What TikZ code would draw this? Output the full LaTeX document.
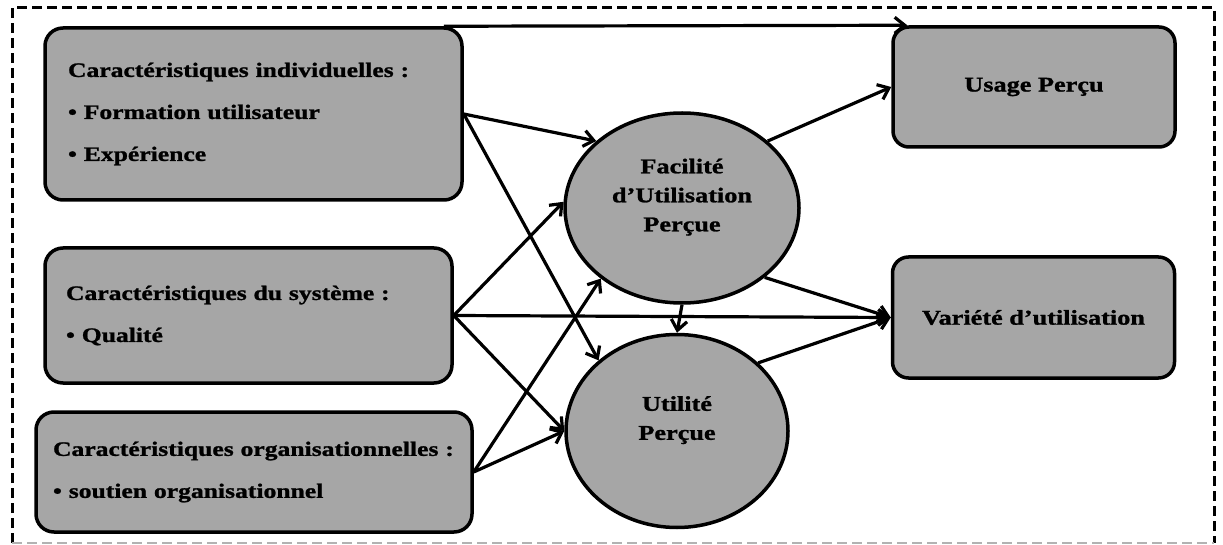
\documentclass[tikz,border=0pt]{standalone}
\usepackage{fontspec}
\setmainfont{Liberation Serif}[FakeStretch=1.25, BoldFeatures={FakeBold=1.2}]
\usepackage{tikz}
\usetikzlibrary{arrows.meta, shapes.geometric}
\definecolor{boxgray}{RGB}{166,166,166}

\begin{document}
\begin{tikzpicture}[x=1pt,y=-1pt,>={Straight Barb[length=10pt,width=16pt]},line width=3.2pt,
    featbox/.style={rectangle, rounded corners=18pt, draw, line width=3.5pt, fill=boxgray, align=left, inner xsep=23pt, font=\fontsize{20.5}{42}\selectfont\bfseries},
    outbox/.style={rectangle, rounded corners=16pt, draw, line width=3.5pt, fill=boxgray, minimum width=282pt, minimum height=120pt, align=center, font=\fontsize{21}{29}\selectfont\bfseries},
    percept/.style={ellipse, draw, line width=3.5pt, fill=boxgray, inner sep=2pt, align=center, text depth=26pt, font=\fontsize{21}{29}\selectfont\bfseries}]

\useasboundingbox (0,0) rectangle (1223,545);

% Frame
\draw[dash pattern=on 10pt off 5pt, line width=3pt] (12,543) -- (12,8) -- (1214,8) -- (1214,543);
\draw[dash pattern=on 10pt off 5pt, line width=2pt, gray!60] (12,543) -- (1214,543);

% External variables
\node[featbox, text width=371pt, minimum height=172pt] (indiv) at (253.5,114) {Caractéristiques individuelles~:\\ \textbullet~Formation utilisateur\\ \textbullet~Expérience};
\node[featbox, text width=365pt, minimum height=135pt, inner xsep=21pt] (sys) at (248.5,315.5) {Caractéristiques du système~:\\ \textbullet~Qualité};
\node[featbox, text width=402pt, minimum height=120pt, inner xsep=17pt] (orga) at (254,472) {Caractéristiques organisationnelles~:\\ \textbullet~soutien organisationnel};

% Perceptions
\node[percept, minimum width=234pt, minimum height=190pt] (facil) at (682,208) {Facilité\\ d'Utilisation\\ Perçue};
\node[percept, minimum width=222pt, minimum height=193pt] (utile) at (677,431) {Utilité\\ Perçue};

% Usage
\node[outbox] (usage) at (1034,87) {Usage Perçu};
\node[outbox, minimum height=121pt] (variete) at (1033.5,317.5) {Variété d'utilisation};

% Arrows
\draw[->] ([xshift=-20pt]indiv.north east) -- ([xshift=16pt]usage.north west);
\draw[->] (indiv.east) -- (facil.142);
\draw[->] (indiv.east) -- (utile.138);
\draw[->] (sys.east) -- (facil.177);
\draw[->] (sys.east) -- (variete.west);
\draw[->] (sys.east) -- (utile.west);
\draw[->] (orga.east) -- (facil.221);
\draw[->] (orga.east) -- (utile.west);
\draw[->] (facil.38) -- (usage.west);
\draw[->] (facil.320) -- (variete.west);
\draw[->] (facil.south) -- (utile.north);
\draw[->] (utile.40) -- (variete.west);

\end{tikzpicture}
\end{document}
